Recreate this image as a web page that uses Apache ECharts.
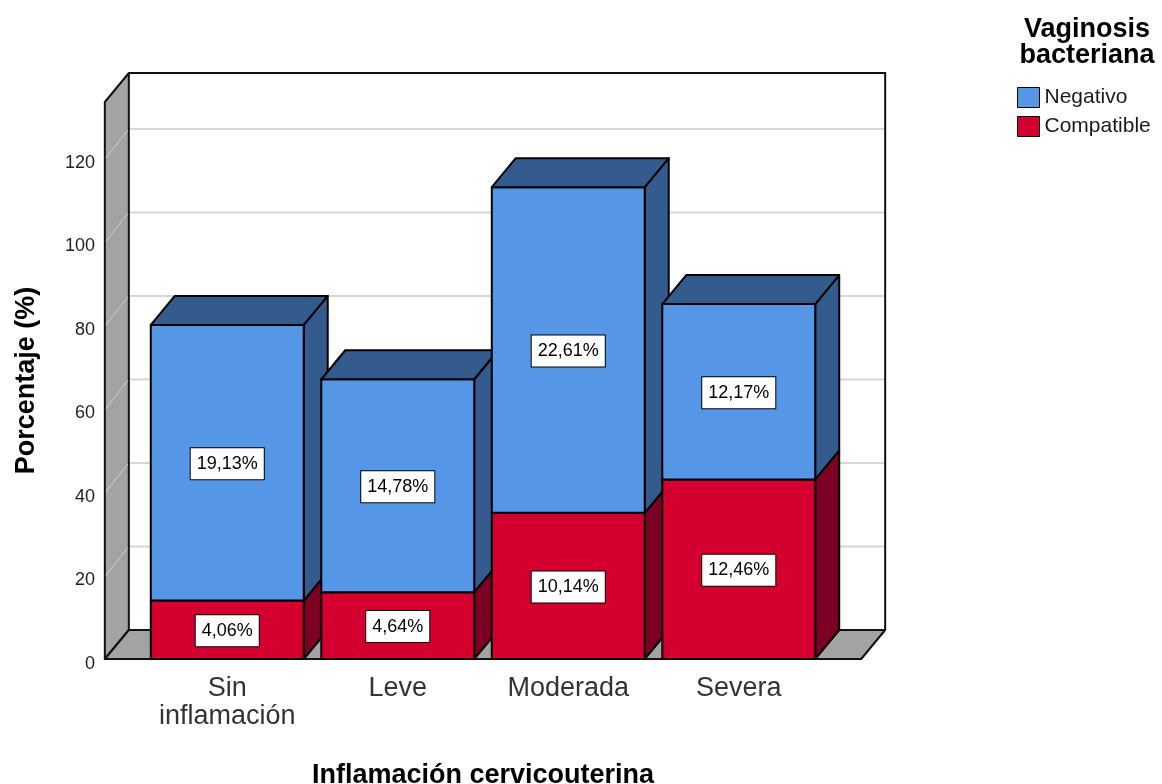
<!DOCTYPE html>
<html>
<head>
<meta charset="utf-8">
<script src="https://cdn.jsdelivr.net/npm/echarts@6/dist/echarts.min.js"></script>
<style>
  html, body { margin: 0; padding: 0; background: #fff; }
  #chart { width: 1162px; height: 784px; }
</style>
</head>
<body>
<div id="chart"></div>
<script>
// ---- data ----
const categories = ['Sin\ninflamación', 'Leve', 'Moderada', 'Severa'];
const seriesNames = ['Negativo', 'Compatible'];
const negativo = [66, 51, 78, 42];
const compatible = [14, 16, 35, 43];
const negativoLabels = ['19,13%', '14,78%', '22,61%', '12,17%'];
const compatibleLabels = ['4,06%', '4,64%', '10,14%', '12,46%'];
const yTicks = [0, 20, 40, 60, 80, 100, 120];

// ---- style ----
const FONT = '"Liberation Sans", Arial, sans-serif';
const DX = 24, DY = 29;          // 3D depth offset
const PAD = 0.218;               // wall padding beyond bands (fraction of band)
const BAR = 0.897;               // bar width fraction of band
const C = {
  blueFront: '#5596e6', blueDark: '#345b8e',
  redFront: '#d3002f', redDark: '#7b0023',
  wall: '#a3a3a3', grid: '#d6d6d6', line: '#111'
};

function renderWalls(params, api) {
  const cs = params.coordSys;
  const band = api.size([1, 0])[0];
  const pad = band * PAD;
  const x0 = cs.x - pad, x1 = cs.x + cs.width + pad;
  const yb = api.coord([0, 0])[1];
  const yt = cs.y;
  const ch = [];
  // back wall
  ch.push({ type: 'rect', shape: { x: x0 + DX, y: yt - DY, width: x1 - x0, height: yb - yt },
    style: { fill: '#fff' } });
  yTicks.forEach(v => {
    if (v === 0) return;
    const y = api.coord([0, v])[1] - DY;
    ch.push({ type: 'line', shape: { x1: x0 + DX, y1: y, x2: x1 + DX, y2: y },
      style: { stroke: C.grid, lineWidth: 2 } });
  });
  // left wall
  ch.push({ type: 'polygon', shape: { points: [[x0, yb], [x0, yt], [x0 + DX, yt - DY], [x0 + DX, yb - DY]] },
    style: { fill: C.wall, stroke: C.line, lineWidth: 2, lineJoin: 'round' } });
  yTicks.forEach(v => {
    if (v === 0) return;
    const y = api.coord([0, v])[1];
    ch.push({ type: 'line', shape: { x1: x0 + 1, y1: y, x2: x0 + DX - 1, y2: y - DY + 1 },
      style: { stroke: '#cfcfcf', lineWidth: 1 } });
  });
  // floor
  ch.push({ type: 'polygon', shape: { points: [[x0, yb], [x1, yb], [x1 + DX, yb - DY], [x0 + DX, yb - DY]] },
    style: { fill: C.wall, stroke: C.line, lineWidth: 2, lineJoin: 'round' } });
  // back wall top and right edges
  ch.push({ type: 'polyline', shape: { points: [[x0 + DX, yt - DY], [x1 + DX, yt - DY], [x1 + DX, yb - DY]] },
    style: { stroke: C.line, lineWidth: 2, fill: null } });
  return { type: 'group', children: ch };
}

function renderBars(params, api) {
  const i = api.value(0);
  const vals = [api.value(1), api.value(2)];
  const labels = [compatibleLabels[i], negativoLabels[i]];
  const fronts = [C.redFront, C.blueFront];
  const darks = [C.redDark, C.blueDark];
  const band = api.size([1, 0])[0];
  const bw = band * BAR;
  const cx = api.coord([i, 0])[0];
  const xl = cx - bw / 2, xr = cx + bw / 2;
  const faces = [], texts = [];
  let base = 0;
  for (let s = 0; s < vals.length; s++) {
    const top = base + vals[s];
    const yB = api.coord([i, base])[1];
    const yT = api.coord([i, top])[1];
    const st = { stroke: '#000', lineWidth: 2, lineJoin: 'round' };
    faces.push({ type: 'polygon', shape: { points: [[xr, yT], [xr + DX, yT - DY], [xr + DX, yB - DY], [xr, yB]] },
      style: Object.assign({ fill: darks[s] }, st) });
    faces.push({ type: 'rect', shape: { x: xl, y: yT, width: bw, height: yB - yT },
      style: Object.assign({ fill: fronts[s] }, st) });
    if (s === vals.length - 1) {
      faces.push({ type: 'polygon', shape: { points: [[xl, yT], [xl + DX, yT - DY], [xr + DX, yT - DY], [xr, yT]] },
        style: Object.assign({ fill: darks[s] }, st) });
    }
    texts.push({ type: 'text', x: cx, y: (yT + yB) / 2 + 1,
      style: { text: labels[s], align: 'center', verticalAlign: 'middle', fontSize: 18, fontFamily: FONT,
        fill: '#000', backgroundColor: '#fff', borderColor: '#000', borderWidth: 1, padding: [7, 6, 6, 6] } });
    base = top;
  }
  return { type: 'group', children: faces.concat(texts) };
}

const chart = echarts.init(document.getElementById('chart'), null, { renderer: 'canvas' });
chart.setOption({
  animation: false,
  backgroundColor: '#fff',
  textStyle: { fontFamily: FONT },
  title: {
    text: 'Vaginosis\nbacteriana', left: 1087, top: 17, textAlign: 'center', padding: 0,
    textStyle: { fontSize: 27, fontWeight: 'bold', lineHeight: 26, color: '#000', fontFamily: FONT }
  },
  legend: {
    orient: 'vertical', left: 1017, top: 87, itemWidth: 22, itemHeight: 20, itemGap: 8,
    icon: 'rect', selectedMode: false, padding: 0,
    textStyle: { fontSize: 21, color: '#1a1a1a', fontFamily: FONT },
    data: [
      { name: seriesNames[0], itemStyle: { color: C.blueFront, borderColor: '#000', borderWidth: 1 } },
      { name: seriesNames[1], itemStyle: { color: C.redFront, borderColor: '#000', borderWidth: 1 } }
    ]
  },
  grid: { left: 142, right: 338, top: 102, bottom: 125, outerBoundsMode: 'none', containLabel: false },
  xAxis: {
    type: 'category', data: categories,
    axisLine: { show: false }, axisTick: { show: false }, splitLine: { show: false },
    axisLabel: { fontSize: 27, lineHeight: 28, color: '#333', margin: 16, interval: 0, fontFamily: FONT },
    name: 'Inflamación cervicouterina', nameLocation: 'middle', nameGap: 103,
    nameTextStyle: { fontSize: 27, fontWeight: 'bold', color: '#000', fontFamily: FONT }
  },
  yAxis: {
    type: 'value', min: 0, max: 133.4, interval: 20,
    axisLine: { show: false }, axisTick: { show: false }, splitLine: { show: false },
    axisLabel: { fontSize: 18, color: '#222', margin: 47, showMaxLabel: false,
      verticalAlign: 'top', lineHeight: 10, fontFamily: FONT },
    name: 'Porcentaje (%)', nameLocation: 'middle', nameGap: 102, nameRotate: 90,
    nameTextStyle: { fontSize: 27, fontWeight: 'bold', color: '#000', fontFamily: FONT }
  },
  series: [
    { type: 'custom', name: 'walls', z: 1, silent: true, renderItem: renderWalls,
      data: [[0, 0]], encode: { x: 0, y: 1 } },
    { type: 'custom', name: 'bars', z: 2, renderItem: renderBars,
      data: categories.map((c, i) => [i, compatible[i], negativo[i]]), encode: { x: 0, y: [1, 2] } },
    { type: 'custom', name: seriesNames[0], data: [], renderItem: () => null,
      itemStyle: { color: C.blueFront } },
    { type: 'custom', name: seriesNames[1], data: [], renderItem: () => null,
      itemStyle: { color: C.redFront } }
  ]
});
</script>
</body>
</html>
